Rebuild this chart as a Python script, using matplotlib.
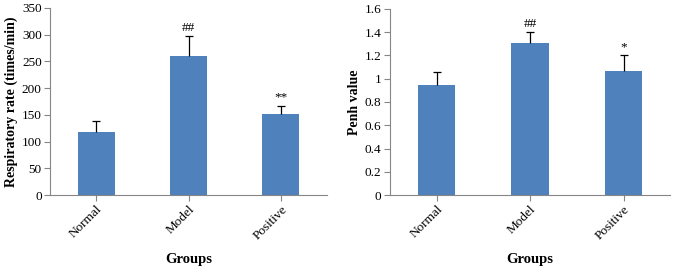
import matplotlib
matplotlib.use('Agg')
import matplotlib.pyplot as plt

plt.rcParams['font.family'] = 'Liberation Serif'

groups = ['Normal', 'Model', 'Positive']

resp_rate = [118, 260, 151]
resp_err = [20, 38, 16]
resp_marks = ['', '##', '**']

penh = [0.95, 1.31, 1.07]
penh_err = [0.11, 0.09, 0.13]
penh_marks = ['', '##', '*']

bar_color = '#4F81BD'
axis_color = '#868686'

fig = plt.figure(figsize=(6.77, 2.72), dpi=100)
ax1 = fig.add_axes([0.074, 0.283, 0.409, 0.688])
ax2 = fig.add_axes([0.576, 0.283, 0.414, 0.684])


def draw(ax, vals, errs, marks, ymax, step, ylabel):
    x = range(len(groups))
    ax.bar(x, vals, width=0.4, color=bar_color, zorder=2)
    eb = ax.errorbar(x, vals, yerr=[[0] * len(errs), errs], fmt='none',
                     ecolor='black', elinewidth=0.9, capsize=3, capthick=0.9, zorder=3)
    # only keep the upper cap
    eb[1][0].set_visible(False)
    for i, m in enumerate(marks):
        if m:
            ax.annotate(m, (i, vals[i] + errs[i]), xytext=(0, 1.5), textcoords='offset points',
                        ha='center', va='bottom', fontsize=9.5)
    ax.set_xlim(-0.5, len(groups) - 0.5)
    ax.set_ylim(0, ymax)
    ticks = [round(step * k, 2) for k in range(int(round(ymax / step)) + 1)]
    ax.set_yticks(ticks)
    ax.set_yticklabels(['%g' % t for t in ticks], fontsize=9.5)
    ax.set_xticks(list(x))
    ax.set_xticklabels(groups, rotation=45, ha='right', rotation_mode='anchor', fontsize=9.5)
    ax.set_ylabel(ylabel, fontsize=10, fontweight='bold', labelpad=3)
    ax.set_xlabel('Groups', fontsize=10.5, fontweight='bold', labelpad=8)
    for s in ['top', 'right']:
        ax.spines[s].set_visible(False)
    for s in ['left', 'bottom']:
        ax.spines[s].set_color(axis_color)
    ax.tick_params(axis='both', color=axis_color, length=4, pad=2)


draw(ax1, resp_rate, resp_err, resp_marks, 350, 50, 'Respiratory rate (times/min)')
draw(ax2, penh, penh_err, penh_marks, 1.6, 0.2, 'Penh value')

fig.savefig('out.png', dpi=100)
